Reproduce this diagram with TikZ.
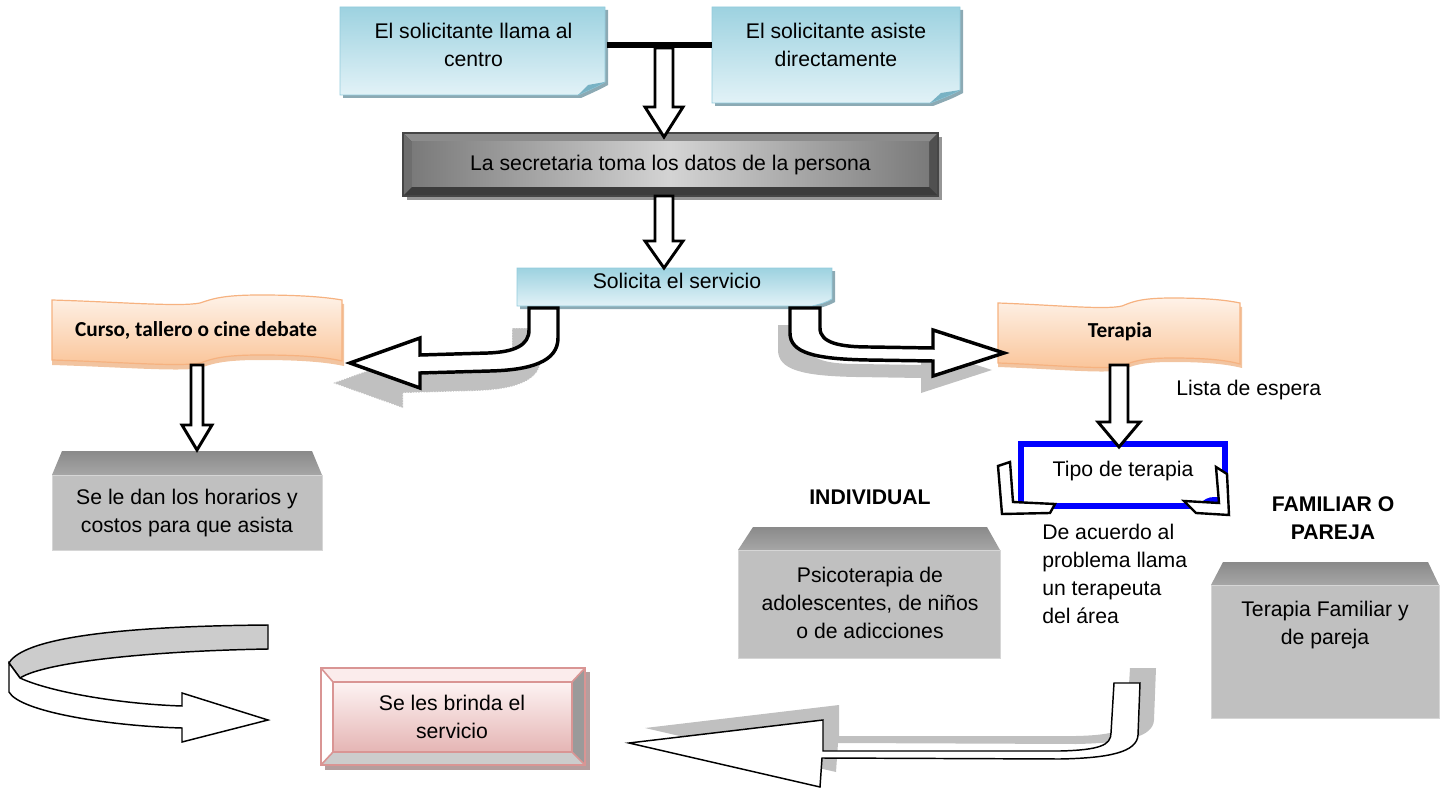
\documentclass[tikz,border=0pt]{standalone}
\usepackage{fontspec}
\setmainfont{Liberation Sans}
\newfontfamily\calibfont{Carlito}
\usetikzlibrary{calc}

\newcommand{\fs}{\fontsize{15.9}{21}\selectfont}
% hollow block arrow pointing down: from, to, half shaft, half head, head length
\newcommand{\hollowdown}[5]{%
  \draw[hollowbar] (#1) -- ++(-#3,0) -- ($(#2)+(-#3,-#5)$) -- ($(#2)+(-#4,-#5)$) -- (#2) -- ($(#2)+(#4,-#5)$) -- ($(#2)+(#3,-#5)$) |- (#1) -- cycle;}

\begin{document}
\begin{tikzpicture}[x=0.75pt,y=0.75pt,yscale=-1,xscale=1,
  txt/.style={inner sep=0pt, align=center, font=\fs},
  bold/.style={inner sep=0pt, align=center, font=\fs\bfseries},
  bannertxt/.style={inner sep=0pt, font=\calibfont\bfseries\fontsize{16}{20}\selectfont},
  notefill/.style={draw={rgb, 255:red, 146; green, 203; blue, 220}, line width=0.6pt, top color={rgb, 255:red, 157; green, 210; blue, 224}, bottom color={rgb, 255:red, 226; green, 242; blue, 247}},
  noteshadow/.style={fill={rgb, 255:red, 140; green, 170; blue, 180}},
  notefold/.style={fill={rgb, 255:red, 120; green, 178; blue, 196}},
  banner/.style={draw={rgb, 255:red, 246; green, 178; blue, 128}, line width=0.9pt, top color={rgb, 255:red, 254; green, 242; blue, 232}, bottom color={rgb, 255:red, 250; green, 196; blue, 152}},
  bannershadow/.style={fill={rgb, 255:red, 242; green, 196; blue, 160}},
  boxtop/.style={top color={rgb, 255:red, 138; green, 138; blue, 138}, bottom color={rgb, 255:red, 166; green, 166; blue, 166}},
  boxfront/.style={fill={rgb, 255:red, 192; green, 192; blue, 192}, draw={rgb, 255:red, 214; green, 214; blue, 214}, line width=0.6pt},
  hollowbar/.style={draw=black, line width=2.2pt, fill=white, line join=miter},
  curvebar/.style={draw=black, line width=2.6pt, fill=white, line join=miter},
  thinbar/.style={draw=black, line width=1.1pt, fill=white, line join=miter},
  graydrop/.style={fill={rgb, 255:red, 192; green, 192; blue, 192}}
]
\useasboundingbox (0,0) rectangle (1446,788);

%Shape: Note [id:llama]
\fill[noteshadow] (343,10) -- (608,10) -- (608,85) .. controls (601,89) and (592,93) .. (581,98) -- (343,98) -- cycle;
\path[notefill] (340,7) -- (605,7) -- (605,82) .. controls (598,86) and (589,90) .. (578,95) -- (340,95) -- cycle;
\fill[notefold] (578,95) -- (588,85) -- (605,82) .. controls (598,86) and (589,90) .. (578,95) -- cycle;
%Shape: Note [id:asiste]
\fill[noteshadow] (715,10) -- (963,10) -- (963,93) .. controls (956,97) and (946,101) .. (933,106) -- (715,106) -- cycle;
\path[notefill] (712,7) -- (960,7) -- (960,90) .. controls (953,94) and (943,98) .. (930,103) -- (712,103) -- cycle;
\fill[notefold] (930,103) -- (941,93) -- (960,90) .. controls (953,94) and (943,98) .. (930,103) -- cycle;
%Straight Lines [id:tbar]
\draw (473.5,45) node [txt, minimum width=200.25pt] (llama) {El solicitante llama al\\centro};
\draw (836,45) node [txt, minimum width=186pt] (asiste) {El solicitante asiste\\directamente};
\draw [line width=4.5pt] (llama.east) -- (asiste.west);

%Shape: Bevel [id:secre]
\fill[fill={rgb, 255:red, 150; green, 150; blue, 150}] (407,137) rectangle (942,200);
\fill[fill={rgb, 255:red, 74; green, 74; blue, 74}] (403,133) rectangle (938,196);
\fill[fill={rgb, 255:red, 140; green, 140; blue, 140}] (403,133) -- (938,133) -- (929,142) -- (412,142) -- cycle;
\fill[fill={rgb, 255:red, 110; green, 110; blue, 110}] (403,133) -- (412,142) -- (412,187) -- (403,196) -- cycle;
\fill[fill={rgb, 255:red, 80; green, 80; blue, 80}] (938,133) -- (938,196) -- (929,187) -- (929,142) -- cycle;
\fill[fill={rgb, 255:red, 60; green, 60; blue, 60}] (403,196) -- (938,196) -- (929,187) -- (412,187) -- cycle;
\path[left color={rgb, 255:red, 122; green, 122; blue, 122}, right color={rgb, 255:red, 122; green, 122; blue, 122}, middle color={rgb, 255:red, 212; green, 212; blue, 212}] (412,142) rectangle (929,187);
\draw[draw={rgb, 255:red, 70; green, 70; blue, 70}, line width=0.8pt] (403,133) rectangle (938,196);
% Text Node
\draw (670.5,165) node [txt] (secre) {La secretaria toma los datos de la persona};

%Shape: Note [id:solic]
\fill[noteshadow] (520,271) -- (835,271) -- (835,302) .. controls (830,305) and (824,307) .. (815,309) -- (520,309) -- cycle;
\path[notefill] (517,268) -- (832,268) -- (832,299) .. controls (827,302) and (821,304) .. (812,306) -- (517,306) -- cycle;
% Text Node
\draw (677,281) node [txt] (solic) {Solicita el servicio};

%Block arrows
\coordinate (tbar) at (664,48);
\coordinate (secreN) at (664,137);
\coordinate (secreS) at (664,196);
\coordinate (solicN) at (664,268);
\hollowdown{tbar}{secreN}{9}{19}{30}
\hollowdown{secreS}{solicN}{9}{19}{27}

%Shape: Wave [id:curso]
\fill[bannershadow] (52,304) .. controls (120,306) and (180,311) .. (200,307) .. controls (212,303) and (222,299) .. (260,299) .. controls (300,299) and (325,301) .. (344,304) -- (344,366) .. controls (325,362) and (300,360) .. (260,360) .. controls (222,360) and (212,364) .. (200,368) .. controls (180,372) and (120,367) .. (52,365) -- cycle;
\path[banner] (52,300) .. controls (120,302) and (180,307) .. (200,303) .. controls (212,299) and (222,295) .. (260,295) .. controls (300,295) and (325,297) .. (342,300) -- (342,361) .. controls (325,357) and (300,355) .. (260,355) .. controls (222,355) and (212,359) .. (200,363) .. controls (180,367) and (120,362) .. (52,360) -- cycle;
\draw (196,330) node [bannertxt] (curso) {Curso, tallero o cine debate};

%Shape: Wave [id:terapia]
\fill[bannershadow] (998,307) .. controls (1055,309) and (1105,314) .. (1122,310) .. controls (1132,306) and (1140,302) .. (1172,302) .. controls (1205,302) and (1226,304) .. (1242,307) -- (1242,368) .. controls (1226,364) and (1205,362) .. (1172,362) .. controls (1140,362) and (1132,366) .. (1122,370) .. controls (1105,374) and (1055,369) .. (998,367) -- cycle;
\path[banner] (998,303) .. controls (1055,305) and (1105,310) .. (1122,306) .. controls (1132,302) and (1140,298) .. (1172,298) .. controls (1205,298) and (1226,300) .. (1240,303) -- (1240,364) .. controls (1226,360) and (1205,358) .. (1172,358) .. controls (1140,358) and (1132,362) .. (1122,366) .. controls (1105,370) and (1055,365) .. (998,363) -- cycle;
\draw (1120,332) node [bannertxt] (terapia) {Terapia};

%Curved Arrow [id:left]
\begin{scope}[shift={(-17,20)}]
\path[graydrop, draw=white, dash pattern=on 1pt off 1pt, line width=0.6pt] (529,308) -- (558,308) -- (558,338) .. controls (558,362) and (530,370) .. (490,371) -- (420,373) -- (420,388) -- (350,363) -- (420,338) -- (420,355) -- (488,353) .. controls (515,352) and (529,345) .. (529,330) -- cycle;
\end{scope}
\draw[curvebar] (529,308) -- (558,308) -- (558,338) .. controls (558,362) and (530,370) .. (490,371) -- (420,373) -- (420,388) -- (350,363) -- (420,338) -- (420,355) -- (488,353) .. controls (515,352) and (529,345) .. (529,330) -- cycle;

%Curved Arrow [id:right]
\begin{scope}[shift={(-12,17)}]
\fill[graydrop] (790,308) -- (820,308) -- (820,328) .. controls (820,343) and (840,347) .. (870,347) -- (933,348) -- (933,330) -- (1004,353) -- (933,376) -- (933,361) -- (868,360) .. controls (815,359) and (790,353) .. (790,333) -- cycle;
\end{scope}
\draw[curvebar] (790,308) -- (820,308) -- (820,328) .. controls (820,343) and (840,347) .. (870,347) -- (933,348) -- (933,330) -- (1004,353) -- (933,376) -- (933,361) -- (868,360) .. controls (815,359) and (790,353) .. (790,333) -- cycle;

%Shape: Cube [id:horarios]
\path[boxtop] (62,451) -- (312,451) -- (322,475) -- (52,475) -- cycle;
\path[boxfront] (52,475) rectangle (322,550);
\draw (187,513) node [txt] (horar) {Se le dan los horarios y\\costos para que asista};
\coordinate (cursoS) at (197,365);
\coordinate (horarN) at (197,450);
\hollowdown{cursoS}{horarN}{6}{15}{25}

%Shape: Rectangle [id:tipo]
\draw[line width=3.8pt, draw={rgb, 255:red, 0; green, 0; blue, 255}, fill=white] (1021,444) rectangle (1225,506);
\fill[fill={rgb, 255:red, 0; green, 0; blue, 255}] (1199,505) .. controls (1204,499) and (1208,497) .. (1215,497) -- (1224,497) -- (1224,505) -- cycle;
\draw (1123,471) node [txt] (tipo) {Tipo de terapia};
\draw[thinbar, line width=1.8pt] (998,466) -- (1010,462) -- (1013,502) -- (1055,504) -- (1050,513) -- (1002,514) -- cycle;
\draw[thinbar, line width=1.8pt] (1216,467) -- (1227,474) -- (1229,515) -- (1196,513) -- (1184,501) -- (1219,503) -- cycle;
\coordinate (terapS) at (1119,365);
\coordinate (tipoN) at (1119,447);
\hollowdown{terapS}{tipoN}{9}{21}{25}
\draw (1176,390) node [txt, anchor=west] (lista) {Lista de espera};

% Text Node
\draw (870,497) node [bold] (indiv) {INDIVIDUAL};
\draw (1333,518) node [bold] (famil) {FAMILIAR O\\PAREJA};
\draw (1042,574) node [txt, anchor=west, align=left] (acuerdo) {De acuerdo al\\problema llama\\un terapeuta\\del área};

%Shape: Cube [id:psico]
\path[boxtop] (753,527) -- (987,527) -- (1000,550) -- (738,550) -- cycle;
\path[boxfront] (738,550) rectangle (1000,658);
\draw (870,603) node [txt] (psico) {Psicoterapia de\\adolescentes, de niños\\o de adicciones};

%Shape: Cube [id:familiar]
\path[boxtop] (1223,562) -- (1428,562) -- (1439,585) -- (1211,585) -- cycle;
\path[boxfront] (1211,585) rectangle (1439,718);
\draw (1325,625) node [txt] (famtxt) {Terapia Familiar y\\de pareja};

%Circular Arrow [id:loop]
\draw[thinbar, fill={rgb, 255:red, 204; green, 204; blue, 204}] (9,663) .. controls (25,635) and (140,626) .. (268,625) -- (268,649) .. controls (150,651) and (45,662) .. (20,678) -- cycle;
\draw[thinbar] (9,663) -- (20,678) .. controls (50,692) and (120,704) .. (182,706) -- (182,693) -- (268,720) -- (182,742) -- (182,728) .. controls (110,726) and (20,712) .. (9,692) -- cycle;

%Shape: Bevel [id:brinda]
\fill[fill={rgb, 255:red, 180; green, 158; blue, 158}] (325,672) rectangle (590,770);
\fill[fill={rgb, 255:red, 251; green, 236; blue, 236}] (321,668) -- (585,668) -- (572,682) -- (333,682) -- cycle;
\fill[fill=white] (321,668) -- (333,682) -- (333,752) -- (321,765) -- cycle;
\fill[fill={rgb, 255:red, 154; green, 154; blue, 154}] (585,668) -- (585,765) -- (572,752) -- (572,682) -- cycle;
\fill[fill={rgb, 255:red, 204; green, 204; blue, 204}] (321,765) -- (585,765) -- (572,752) -- (333,752) -- cycle;
\path[top color={rgb, 255:red, 253; green, 243; blue, 243}, bottom color={rgb, 255:red, 229; green, 181; blue, 180}] (333,682) rectangle (572,752);
\draw[draw={rgb, 255:red, 217; green, 149; blue, 148}, line width=1.2pt] (321,668) rectangle (585,765) (333,682) rectangle (572,752) (321,668) -- (333,682) (585,668) -- (572,682) (321,765) -- (333,752) (585,765) -- (572,752);
\draw (452,717) node [txt] (brinda) {Se les brinda el\\servicio};

%Curved Arrow [id:back]
\begin{scope}[shift={(16,-15)}]
\fill[graydrop] (1114,683) -- (1140,683) -- (1138,735) .. controls (1137,752) and (1110,758) .. (1060,759) -- (822,758) -- (820,787) -- (629,743) -- (823,720) -- (823,751) -- (1060,751) .. controls (1100,750) and (1111,745) .. (1111,733) -- cycle;
\end{scope}
\draw[thinbar] (1114,683) -- (1140,683) -- (1138,735) .. controls (1137,752) and (1110,758) .. (1060,759) -- (822,758) -- (820,787) -- (629,743) -- (823,720) -- (823,751) -- (1060,751) .. controls (1100,750) and (1111,745) .. (1111,733) -- cycle;

\end{tikzpicture}
\end{document}
